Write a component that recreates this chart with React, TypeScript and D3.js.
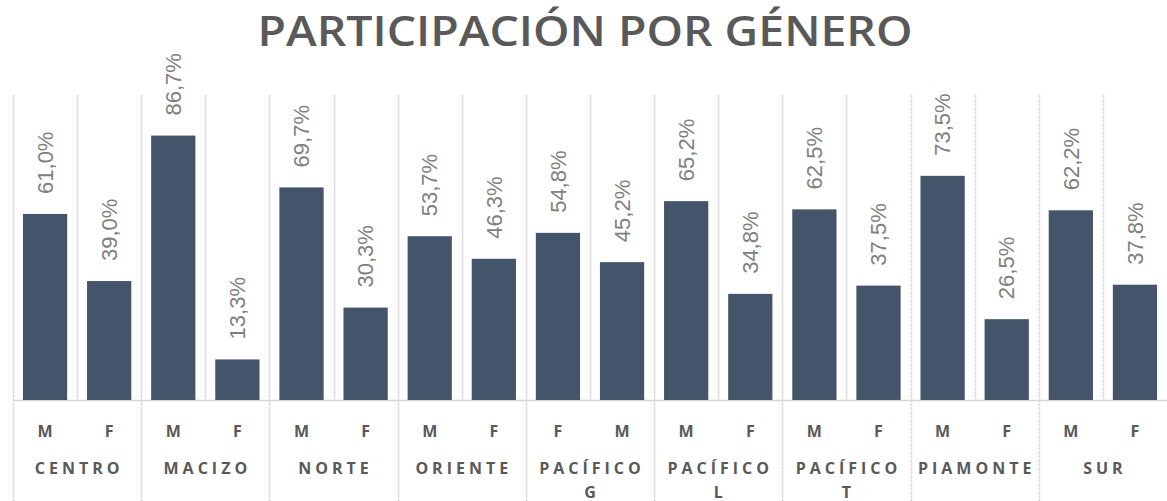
import React from "react";
import * as d3 from "d3";

const regions = ["CENTRO", "MACIZO", "NORTE", "ORIENTE", "PACÍFICO G", "PACÍFICO L", "PACÍFICO T", "PIAMONTE", "SUR"];
const genders = [
  ["M", "F"], ["M", "F"], ["M", "F"], ["M", "F"], ["F", "M"],
  ["M", "F"], ["M", "F"], ["M", "F"], ["M", "F"],
];
const values = [
  [61.0, 39.0], [86.7, 13.3], [69.7, 30.3], [53.7, 46.3], [54.8, 45.2],
  [65.2, 34.8], [62.5, 37.5], [73.5, 26.5], [62.2, 37.8],
];
const title = "PARTICIPACIÓN POR GÉNERO";

const W = 1167, H = 501;
const left = 13, right = 1167, top = 95, base = 400;
const barColor = "#44546A";
const gridColor = "#D6D6D6";

export default function App() {
  const x = d3.scaleBand<string>().domain(regions).range([left, right]).padding(0);
  const inner = d3.scaleBand<number>().domain([0, 1]).range([0, x.bandwidth()]).paddingInner(0.31).paddingOuter(0.155);
  const y = d3.scaleLinear().domain([0, 100]).range([base, top]);
  const fmt = (v: number) => v.toFixed(1).replace(".", ",") + "%";

  return (
    <svg width={W} height={H} style={{ position: "absolute", left: 0, top: 0, background: "#fff" }}>
      <text x={585} y={46} textAnchor="middle" fontFamily="'Open Sans', sans-serif" fontWeight={600}
        fontSize={41} fill="#595959" textLength={655} lengthAdjust="spacingAndGlyphs">{title}</text>
      <line x1={left} x2={right} y1={base + 0.5} y2={base + 0.5} stroke={gridColor} strokeWidth={1.5} />
      {regions.map((r, i) => {
        const x0 = x(r)!;
        const words = r.split(" ");
        return (
          <g key={r}>
            <line x1={Math.round(x0) + 0.5} x2={Math.round(x0) + 0.5} y1={top} y2={H} stroke={gridColor} strokeWidth={1.5} strokeDasharray="3,1" />
            <line x1={Math.round(x0 + x.bandwidth() / 2) + 0.5} x2={Math.round(x0 + x.bandwidth() / 2) + 0.5} y1={top} y2={base} stroke={gridColor} strokeWidth={1.5} strokeDasharray="3,1" />
            {values[i].map((v, j) => {
              const bx = x0 + inner(j)!;
              const cx = bx + inner.bandwidth() / 2;
              return (
                <g key={j}>
                  <rect x={bx} y={y(v)} width={inner.bandwidth()} height={base - y(v)} fill={barColor} />
                  <text transform={`translate(${cx},${y(v) - 20}) rotate(-90)`} dy="0.35em"
                    fontFamily="'Liberation Sans', Arial, sans-serif" fontSize={22} fill="#808080">{fmt(v)}</text>
                  <text x={cx} y={437} textAnchor="middle" fontFamily="'Open Sans', sans-serif" fontWeight={700}
                    fontSize={16} fill="#595959">{genders[i][j]}</text>
                </g>
              );
            })}
            {words.map((w, k) => (
              <text key={k} x={x0 + x.bandwidth() / 2 + 2} y={474 + k * 24} textAnchor="middle"
                fontFamily="'Open Sans', sans-serif" fontWeight={700} fontSize={16} letterSpacing={4}
                fill="#595959">{w}</text>
            ))}
          </g>
        );
      })}
    </svg>
  );
}
